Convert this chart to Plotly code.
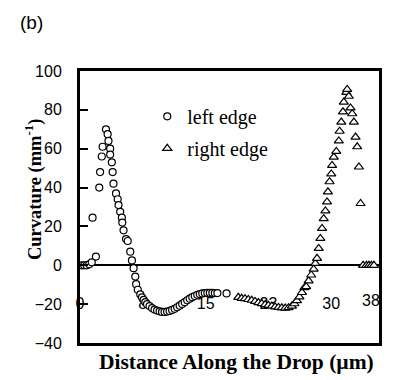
import plotly.graph_objects as go

# ---- data ----
left_x = [0.2, 0.5, 0.8, 1.1, 1.4, 1.9, 1.5, 2.3, 2.4, 2.6, 2.7, 3.1, 3.3, 3.4, 3.6, 3.6,
          3.8, 3.9, 4.0, 4.3, 4.5, 4.6, 4.8, 5.0, 5.05, 5.2, 5.5, 5.7, 6.0, 6.2, 6.4, 6.6,
          6.7, 6.9, 7.2, 7.4, 7.6, 7.8, 8.0, 8.3, 8.6, 8.9, 9.2, 9.5, 9.8, 10.1, 10.4,
          10.7, 11.0, 11.3, 11.6, 11.9, 12.2, 12.5, 12.8, 13.1, 13.4, 13.7, 14.0, 14.3,
          14.6, 14.9, 15.2, 15.5, 15.8, 16.1, 16.4, 17.5]
left_y = [0, 0, 0, 0.5, 1.5, 4.5, 24.5, 40, 48, 56, 61, 70, 67.5, 64, 60, 57,
          53, 48, 42, 37, 34, 31, 27.5, 24.5, 22, 18, 13.5, 12.5, 7, 2.5, -1.5, -5.8,
          -9.7, -12.6, -15, -16.5, -17.8, -19, -20, -21, -22, -22.8, -23.3, -23.7, -24, -24, -23.8,
          -23.5, -23, -22.4, -21.6, -20.8, -19.9, -19, -18, -17.2, -16.4, -15.8, -15.2, -14.8,
          -14.5, -14.3, -14.2, -14.2, -14.2, -14.3, -14.3, -14.5]

right_x = [18.9, 19.3, 19.7, 20.1, 20.5, 20.9, 21.3, 21.7, 22.1, 22.5, 22.9, 23.3, 23.7,
           24.1, 24.5, 24.9, 25.3, 25.6, 25.9, 26.2, 26.5, 26.8, 27.0, 27.3, 27.6, 27.9,
           28.1, 28.3, 28.5, 28.7, 28.9, 29.1, 29.3, 29.5, 29.6, 29.8, 30.0, 30.1, 30.3,
           30.6, 30.9, 31.0, 31.2, 31.4, 31.5, 31.8, 31.9, 32.1, 32.3, 32.5, 32.7, 32.9,
           33.1, 33.3, 33.5, 33.8, 34.2, 34.5, 34.8, 35.1]
right_y = [-16.5, -17, -17.2, -17.6, -18, -18.6, -19.2, -19.7, -20.2, -20.6, -21, -21.4, -21.7,
           -21.9, -22, -21.8, -21, -19.8, -18.2, -16.3, -14, -11.5, -11, -8, -5, -2,
           1, 3.6, 8.7, 13.8, 19, 24, 28, 32.6, 37.8, 43, 47, 51.4, 55.7,
           58.6, 64, 69, 73.7, 79, 84, 89, 90.5, 87, 81, 78, 73.7, 66,
           61, 50.6, 31.8, 0, 0, 0, 0, 0]

x_tickvals = [0, 7.5, 15, 22.5, 30]
x_ticktext = ["0", "8", "15", "23", "30"]
y_tickvals = [-40, -20, 0, 20, 40, 60, 80, 100]

SERIF = "Liberation Serif"
SANS = "Liberation Sans"
X_RANGE = [0, 35.7]

fig = go.Figure()
fig.add_trace(go.Scatter(
    x=left_x, y=left_y, mode="markers", name="left edge", legendgroup="a",
    marker=dict(symbol="circle", size=7, color="white", line=dict(color="black", width=1.2)),
    cliponaxis=False))
fig.add_trace(go.Scatter(
    x=right_x, y=right_y, mode="markers", name="right edge", legendgroup="b",
    marker=dict(symbol="triangle-up", size=8, color="white", line=dict(color="black", width=1.2)),
    cliponaxis=False))

fig.update_layout(
    template="none",
    width=401, height=372,
    margin=dict(l=72, r=30, t=63, b=37, autoexpand=False),
    paper_bgcolor="white", plot_bgcolor="white",
    showlegend=True,
    legend=dict(x=0.225, y=0.905, xanchor="left", yanchor="top",
                bgcolor="rgba(0,0,0,0)", borderwidth=0,
                font=dict(family=SERIF, size=20, color="black"),
                traceorder="grouped", tracegroupgap=3, itemwidth=30),
    xaxis=dict(range=X_RANGE, tickvals=x_tickvals, ticktext=x_ticktext,
               anchor="y", side="bottom", showline=True, mirror=True,
               linecolor="black", linewidth=3,
               ticks="", ticklabelposition="outside", ticklabelstandoff=-56,
               layer="below traces", automargin=False,
               tickfont=dict(family=SANS, size=16, color="black"),
               showgrid=False, zeroline=False),
    xaxis2=dict(range=X_RANGE, tickvals=x_tickvals, overlaying="x",
                anchor="free", position=40/140, showline=False,
                ticks="inside", ticklen=8, tickwidth=2, tickcolor="black",
                showticklabels=False, showgrid=False, zeroline=False, automargin=False),
    yaxis=dict(range=[-40, 100], tickvals=y_tickvals, domain=[0, 1],
               showline=True, mirror=True, linecolor="black", linewidth=3, automargin=False,
               ticks="inside", ticklen=8, tickwidth=2, tickcolor="black",
               ticklabelstandoff=12,
               tickfont=dict(family=SANS, size=16, color="black"),
               showgrid=False, zeroline=True, zerolinecolor="black", zerolinewidth=2),
    annotations=[
        dict(text="(b)", xref="paper", yref="paper", x=-0.161, y=1.18, showarrow=False,
             xanchor="center", yanchor="middle",
             font=dict(family=SANS, size=19, color="black")),
        dict(text="<b>Curvature (mm<sup>-1</sup>)</b>", xref="paper", yref="paper",
             x=-0.157, y=0.5625, textangle=-90, showarrow=False,
             xanchor="center", yanchor="middle",
             font=dict(family=SERIF, size=18.5, color="black")),
        dict(text="<b>Distance Along the Drop (µm)</b>", xref="paper", yref="paper",
             x=0.525, y=-0.07, showarrow=False, xanchor="center", yanchor="middle",
             font=dict(family=SERIF, size=21.5, color="black")),
        dict(text="38", xref="paper", yref="paper", x=0.973, y=0.158, showarrow=False,
             xanchor="center", yanchor="middle",
             font=dict(family=SANS, size=16, color="black")),
    ],
)

fig.write_html("out.html")
